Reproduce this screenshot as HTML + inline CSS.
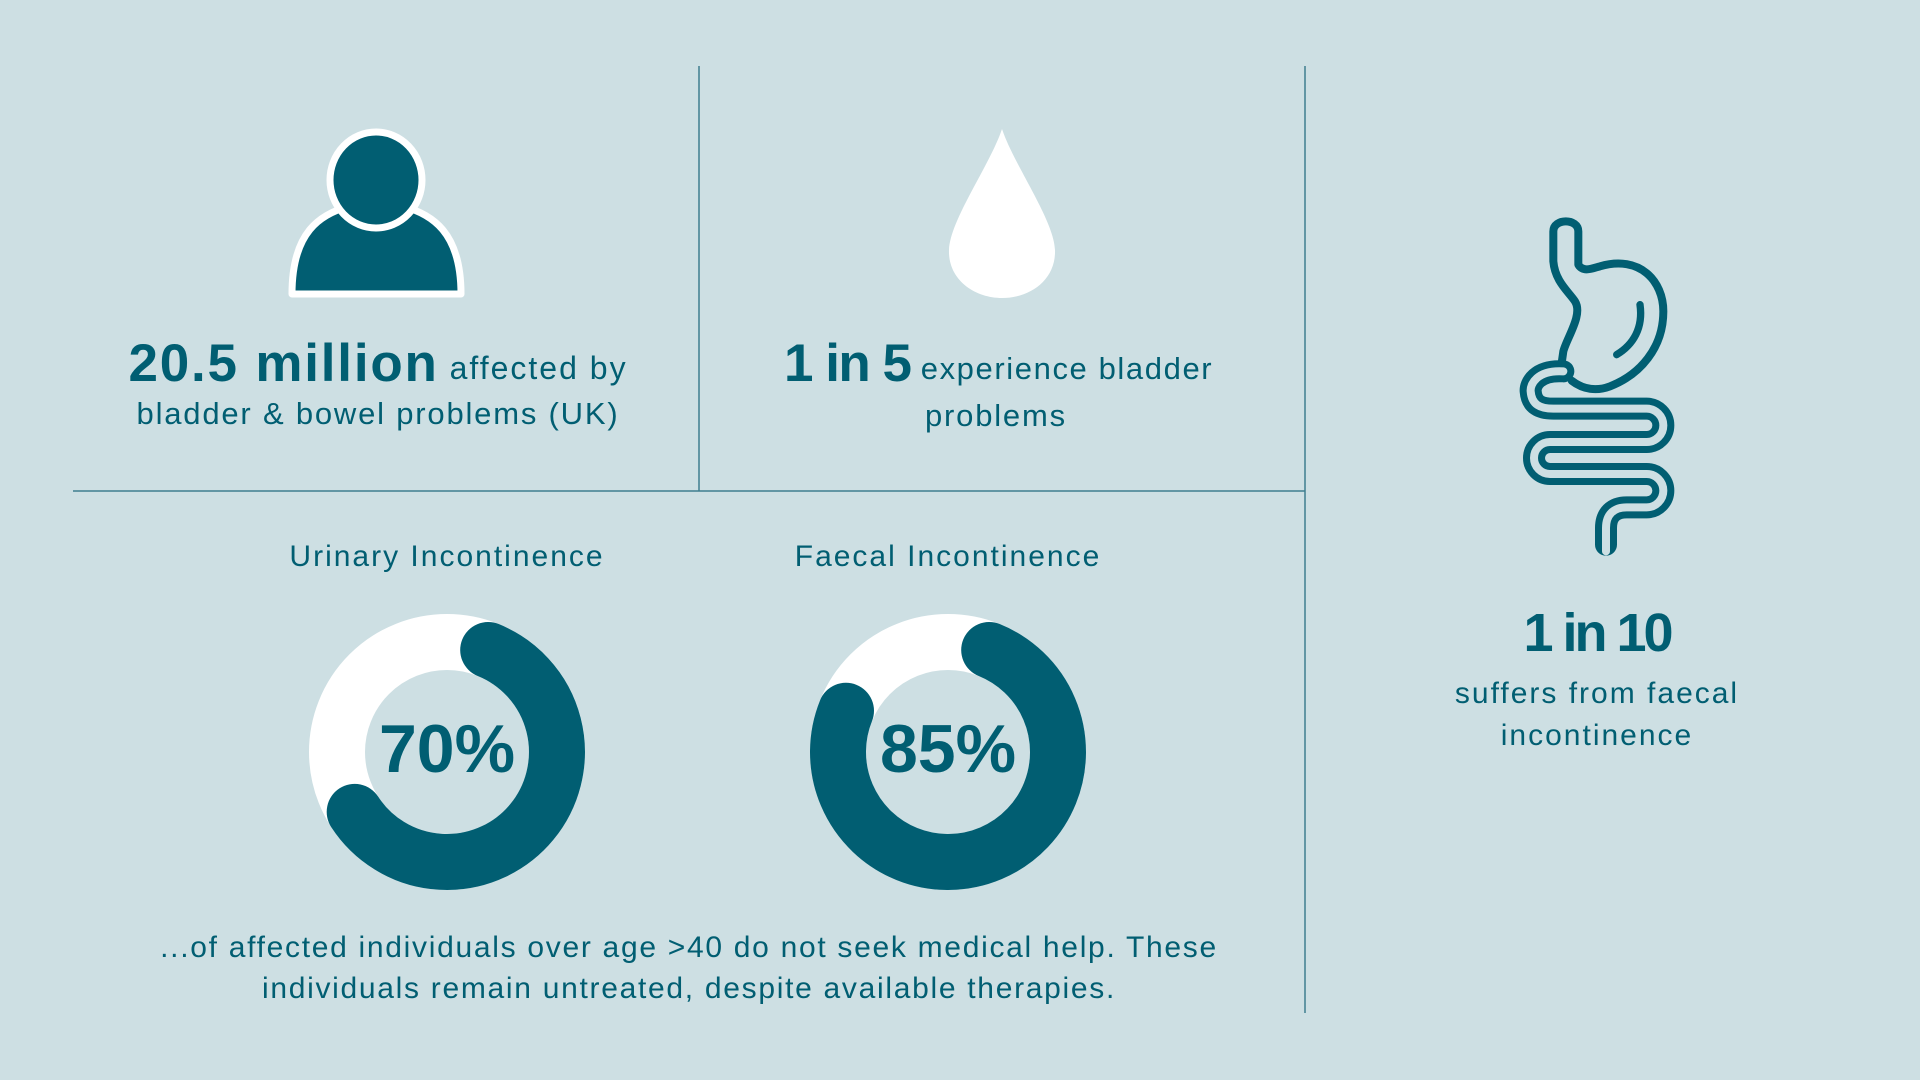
<!DOCTYPE html>
<html><head><meta charset="utf-8"><style>
html,body{margin:0;padding:0}
body{width:1920px;height:1080px;background:#cddfe3;position:relative;overflow:hidden;font-family:"Liberation Sans",sans-serif;color:#015e72}
.t{position:absolute;white-space:nowrap;text-align:center;letter-spacing:1.8px}
b{font-weight:700}
</style></head><body>
<svg width="1920" height="1080" style="position:absolute;left:0;top:0">
<g stroke="#3f7f8f" stroke-width="1.5">
<line x1="699" y1="66" x2="699" y2="491"/>
<line x1="1305" y1="66" x2="1305" y2="1013"/>
<line x1="73" y1="491" x2="1305" y2="491"/>
</g>
<path d="M292,294 C292,232 320,214 350,206 L402,206 C432,214 461,232 461,294 Z" fill="#015e72" stroke="#fff" stroke-width="7" stroke-linejoin="round"/>
<ellipse cx="376" cy="180" rx="46" ry="48" fill="#015e72" stroke="#fff" stroke-width="7"/>
<path d="M1002,129 C990,165 950,220 949,250 C948,280 975,298 1002,298 C1030,298 1056,280 1055,250 C1054,220 1014,165 1002,129 Z" fill="#fff"/>
<circle cx="447" cy="752" r="110" fill="none" stroke="#fff" stroke-width="56"/>
<path d="M488.2,650 A110 110 0 1 1 354.7,811.9" fill="none" stroke="#015e72" stroke-width="56" stroke-linecap="round"/>
<circle cx="948" cy="752" r="110" fill="none" stroke="#fff" stroke-width="56"/>
<path d="M989.2,650 A110 110 0 1 1 846,710.8" fill="none" stroke="#015e72" stroke-width="56" stroke-linecap="round"/>
<svg x="1500" y="198" width="200" height="360" viewBox="0 0 600 1080">
<g fill="none" stroke-linecap="round" stroke-linejoin="round">
<path d="M190,520 C110,515 90,560 92,580 C95,620 120,632 160,632 L440,632 A50 50 0 0 1 440,732 L150,732 A48 48 0 0 0 150,828 L440,828 A50 50 0 0 1 440,928 L380,928 C340,928 318,950 318,990 L318,1040" stroke="#015e72" stroke-width="66"/>
<path d="M190,520 C110,515 90,560 92,580 C95,620 120,632 160,632 L440,632 A50 50 0 0 1 440,732 L150,732 A48 48 0 0 0 150,828 L440,828 A50 50 0 0 1 440,928 L380,928 C340,928 318,950 318,990 L318,1060" stroke="#cddfe3" stroke-width="24"/>
<path d="M215,548 C250,575 290,580 330,565 C420,530 490,450 490,340 C490,250 420,170 300,205 C280,210 250,225 235,200 L235,100 C235,60 160,60 160,100 L160,190 C165,250 205,280 225,310 C250,350 200,420 190,460 L185,495" stroke="#015e72" stroke-width="24"/>
<path d="M420,320 C430,390 400,440 350,470" stroke="#015e72" stroke-width="22"/>
</g>
</svg>
</svg>
<div class="t" style="left:378px;top:334px;transform:translateX(-50%);font-size:32px;line-height:60px;letter-spacing:2px"><b style="font-size:53px;vertical-align:-2px;letter-spacing:1.8px">20.5 million</b> affected by</div>
<div class="t" style="left:378px;top:396px;transform:translateX(-50%);font-size:31px">bladder &amp; bowel problems (UK)</div>
<div class="t" style="left:784px;top:334px;font-size:31px;line-height:60px;text-align:left;letter-spacing:1.6px"><b style="font-size:53px;vertical-align:-2px;letter-spacing:-1.5px">1 in 5</b>&nbsp;experience bladder</div>
<div class="t" style="left:925px;top:398px;font-size:31px;text-align:left">problems</div>
<div class="t" style="left:447px;top:540px;transform:translateX(-50%);font-size:30px;letter-spacing:2px">Urinary Incontinence</div>
<div class="t" style="left:948px;top:540px;transform:translateX(-50%);font-size:30px;letter-spacing:2px">Faecal Incontinence</div>
<div class="t" style="left:447px;top:710px;transform:translateX(-50%);font-size:68px;font-weight:700;letter-spacing:0">70%</div>
<div class="t" style="left:948px;top:710px;transform:translateX(-50%);font-size:68px;font-weight:700;letter-spacing:0">85%</div>
<div class="t" style="left:689px;top:927px;transform:translateX(-50%);font-size:30px;line-height:41px;letter-spacing:1.7px">...of affected individuals over age &gt;40 do not seek medical help. These<br>individuals remain untreated, despite available therapies.</div>
<div class="t" style="left:1597px;top:602px;transform:translateX(-50%);font-size:54px;font-weight:700;letter-spacing:-3px">1 in 10</div>
<div class="t" style="left:1597px;top:673px;transform:translateX(-50%);font-size:30px;line-height:42px;letter-spacing:2px">suffers from faecal<br>incontinence</div>
</body></html>
